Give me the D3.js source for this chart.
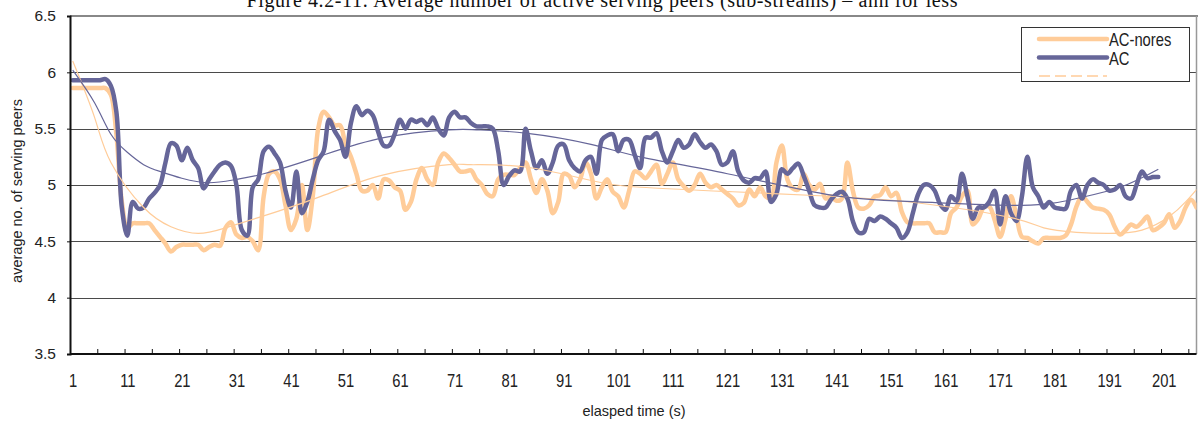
<!DOCTYPE html>
<html>
<head>
<meta charset="utf-8">
<script src="https://cdn.jsdelivr.net/npm/d3@7"></script>
<style>
  body { margin: 0; background: #fff; }
  svg { display: block; }
  .sans { font-family: "Liberation Sans", Arial, sans-serif; fill: #222; }
</style>
</head>
<body>
<div id="chart"></div>
<script>
// AC-nores, one value per second (1..207)
const acNores = [
  5.86, 5.86, 5.86, 5.86, 5.86, 5.86, 5.86, 5.8, 5.45, 4.85,
  4.62, 4.66, 4.66, 4.66, 4.66, 4.6, 4.54, 4.48, 4.41, 4.45,
  4.47, 4.47, 4.47, 4.47, 4.42, 4.45, 4.47, 4.46, 4.62, 4.67,
  4.56, 4.53, 4.54, 4.5, 4.42, 4.9, 5.1, 5.12, 5.05, 4.82,
  4.6, 4.7, 5.0, 4.6, 4.9, 5.5, 5.65, 5.6, 5.53, 5.53,
  5.36, 5.25, 5.1, 4.95, 4.95, 5.0, 4.88, 5.05, 5.04, 4.98,
  4.95, 4.78, 4.85, 5.05, 5.15, 5.05, 5.0, 5.2, 5.28, 5.24,
  5.18, 5.12, 5.12, 5.13, 5.05, 5.0, 4.92, 4.9, 5.05, 5.09,
  5.09, 5.09, 5.15, 5.2, 5.05, 4.93, 5.05, 4.95, 4.75, 4.85,
  5.1, 5.08, 4.98, 5.05, 5.2, 5.1, 4.88, 4.98, 5.05, 4.94,
  4.9, 4.8, 4.95, 5.12, 5.1, 5.06, 5.12, 5.18, 5.01, 5.1,
  5.2, 5.05, 4.99, 4.95, 5.0, 5.1, 5.02, 4.98, 5.0, 4.96,
  4.92, 4.88, 4.82, 4.84, 4.96, 4.9, 4.98, 4.9, 4.88, 5.2,
  5.35, 5.05, 4.97, 4.96, 5.1, 5.0, 4.96, 5.01, 4.88, 4.9,
  4.86, 4.88, 5.2, 4.95, 4.8, 4.79, 4.82, 4.9, 4.91, 4.98,
  4.9, 4.93, 4.76, 4.67, 4.66, 4.66, 4.66, 4.66, 4.58, 4.58,
  4.58, 4.75, 4.8, 4.9, 4.95, 4.65, 4.7, 4.8, 4.81, 4.69,
  4.54, 4.7, 4.9, 4.72, 4.54, 4.53, 4.5, 4.48, 4.53, 4.53,
  4.53, 4.53, 4.55, 4.65, 4.81, 4.9, 4.85, 4.8, 4.79, 4.78,
  4.74, 4.63, 4.56, 4.6, 4.65, 4.63, 4.67, 4.72, 4.6, 4.62,
  4.66, 4.74, 4.62, 4.68, 4.8, 4.87, 4.8
];

// AC, one value per second (1..200)
const ac = [
  5.93, 5.93, 5.93, 5.93, 5.93, 5.93, 5.94, 5.88, 5.65, 4.8,
  4.55, 4.85, 4.79, 4.8, 4.88, 4.93, 5.0, 5.2, 5.37, 5.35,
  5.22, 5.33, 5.22, 5.15, 4.97, 5.05, 5.12, 5.18, 5.2, 5.17,
  5.0, 4.6, 4.55, 4.98, 5.05, 5.3, 5.34, 5.28, 5.2, 4.95,
  4.8, 5.12, 4.75, 4.85, 5.05, 5.22, 5.3, 5.58, 5.48, 5.4,
  5.25, 5.55, 5.7, 5.62, 5.66, 5.62, 5.47, 5.35, 5.35, 5.45,
  5.58, 5.5, 5.58, 5.56, 5.58, 5.53, 5.6, 5.5, 5.44, 5.6,
  5.65, 5.6, 5.6, 5.55, 5.52, 5.52, 5.52, 5.5, 5.3, 5.0,
  5.08, 5.13, 5.12, 5.5, 5.3, 5.15, 5.22, 5.1, 5.2, 5.35,
  5.36, 5.22, 5.15, 5.12, 5.22, 5.25, 5.1, 5.4, 5.44, 5.45,
  5.3, 5.4, 5.4, 5.27, 5.15, 5.42, 5.42, 5.46, 5.3, 5.2,
  5.3, 5.4, 5.33, 5.36, 5.45, 5.38, 5.33, 5.36, 5.3, 5.18,
  5.2, 5.3, 5.12, 5.04, 5.02, 5.06, 5.06, 5.12, 4.85, 4.92,
  5.14, 5.1, 5.15, 5.19, 5.08, 4.95, 4.82, 4.8, 4.8, 4.87,
  4.92, 4.94, 4.88, 4.68, 4.58, 4.58, 4.7, 4.68, 4.72, 4.7,
  4.66, 4.62, 4.53, 4.58, 4.75, 4.92, 5.0, 5.0, 4.95, 4.83,
  4.78, 4.9, 4.86, 5.1, 4.9, 4.7, 4.8, 4.8, 4.85, 4.95,
  4.65, 4.9, 4.75, 4.68, 4.9, 5.25, 4.98, 4.9, 4.8, 4.85,
  4.8, 4.79, 4.79, 4.95, 5.0, 4.88, 5.0, 5.05, 5.02, 5.0,
  4.95, 4.96, 5.0, 4.9, 4.88, 5.0, 5.12, 5.06, 5.07, 5.07
];

// polynomial trend lines
const acTrendT = [1, 5, 8, 11, 14, 17, 21, 26, 31, 36, 46, 58, 70, 75, 84, 96, 105, 121, 140, 156, 175, 185, 193, 200];
const acTrendV = [6.02, 5.73, 5.45, 5.29, 5.18, 5.12, 5.06, 5.02, 5.05, 5.1, 5.25, 5.42, 5.49, 5.49, 5.46, 5.36, 5.25, 5.1, 4.91, 4.85, 4.82, 4.88, 4.98, 5.14];
const noresTrendT = [1, 5, 8, 14, 19, 24, 29, 35, 46, 58, 70, 74, 84, 96, 105, 122, 140, 156, 173, 179, 185, 191, 197, 202, 205, 207];
const noresTrendV = [6.1, 5.6, 5.2, 4.8, 4.63, 4.57, 4.62, 4.71, 4.89, 5.09, 5.18, 5.18, 5.16, 5.04, 4.98, 4.94, 4.9, 4.84, 4.71, 4.62, 4.58, 4.57, 4.6, 4.72, 4.85, 4.96];

const yTicks = [3.5, 4, 4.5, 5, 5.5, 6, 6.5];
const xLabels = d3.range(1, 202, 10);
const xTickBounds = d3.range(0.5, 207, 5);
const seriesNames = ['AC-nores', 'AC'];

const colNores = '#ffcc99';
const colAc = '#666699';
const narrow = 'scale(0.82,1)';

const W = 1198, H = 428;
const plot = { left: 70, top: 16, right: 1196.5, bottom: 354 };

const svg = d3.select('#chart').append('svg')
  .attr('width', W)
  .attr('height', H);

const x = d3.scaleLinear()
  .domain([0.5, 207])
  .range([plot.left, plot.right]);

const y = d3.scaleLinear()
  .domain([3.5, 6.5])
  .range([plot.bottom, plot.top]);

// Title (its top is cut off in the original too)
svg.append('text')
  .attr('x', 602)
  .attr('y', 7)
  .attr('text-anchor', 'middle')
  .attr('textLength', 711)
  .style('font-family', '"Liberation Serif", "Times New Roman", serif')
  .style('font-size', '20px')
  .style('fill', '#111')
  .text('Figure 4.2-11: Average number of active serving peers (sub-streams) \u2013 ann for less');

// Gridlines
svg.append('g')
  .selectAll('line')
  .data(yTicks.slice(1, -1))
  .join('line')
  .attr('x1', plot.left)
  .attr('x2', plot.right)
  .attr('y1', d => Math.round(y(d)) + 0.5)
  .attr('y2', d => Math.round(y(d)) + 0.5)
  .attr('stroke', '#4a4a4a')
  .attr('stroke-width', 1);

// Plot frame (top/right in grey)
svg.append('line')
  .attr('x1', plot.left).attr('x2', W)
  .attr('y1', plot.top).attr('y2', plot.top)
  .attr('stroke', '#888').attr('stroke-width', 2);
svg.append('line')
  .attr('x1', plot.right).attr('x2', plot.right)
  .attr('y1', plot.top).attr('y2', plot.bottom)
  .attr('stroke', '#999').attr('stroke-width', 1.5);

svg.append('clipPath')
  .attr('id', 'clip')
  .append('rect')
  .attr('x', plot.left)
  .attr('y', plot.top)
  .attr('width', plot.right - plot.left)
  .attr('height', plot.bottom - plot.top);

const lines = svg.append('g').attr('clip-path', 'url(#clip)');

const seriesLine = d3.line()
  .x((d, i) => x(i + 1))
  .y(d => y(d))
  .curve(d3.curveCatmullRom.alpha(0.5));

const trendLine = d3.line()
  .x(d => x(d[0]))
  .y(d => y(d[1]))
  .curve(d3.curveNatural);

lines.append('path')
  .datum(acNores)
  .attr('d', seriesLine)
  .attr('fill', 'none')
  .attr('stroke', colNores)
  .attr('stroke-width', 4.5)
  .attr('stroke-linejoin', 'round')
  .attr('stroke-linecap', 'round');

lines.append('path')
  .datum(ac)
  .attr('d', seriesLine)
  .attr('fill', 'none')
  .attr('stroke', colAc)
  .attr('stroke-width', 4.5)
  .attr('stroke-linejoin', 'round')
  .attr('stroke-linecap', 'round');

lines.append('path')
  .datum(d3.zip(noresTrendT, noresTrendV))
  .attr('d', trendLine)
  .attr('fill', 'none')
  .attr('stroke', colNores)
  .attr('stroke-width', 1.2);

lines.append('path')
  .datum(d3.zip(acTrendT, acTrendV))
  .attr('d', trendLine)
  .attr('fill', 'none')
  .attr('stroke', colAc)
  .attr('stroke-width', 1.2);

// Y axis
const yAxis = svg.append('g')
  .attr('transform', `translate(${plot.left},0)`)
  .call(d3.axisLeft(y).tickValues(yTicks).tickSize(3).tickPadding(11).tickFormat(d => d));
yAxis.select('.domain').attr('stroke', '#111').attr('stroke-width', 2);
yAxis.selectAll('.tick line').attr('stroke', '#111');
yAxis.selectAll('.tick text')
  .attr('class', 'sans')
  .style('font-size', '15.5px');

// X axis: ticks between categories, labels on categories
const xAxis = svg.append('g')
  .attr('transform', `translate(0,${plot.bottom})`)
  .call(d3.axisBottom(x).tickValues(xTickBounds).tickSize(-5).tickFormat(''));
xAxis.select('.domain').attr('stroke', '#111').attr('stroke-width', 2)
  .attr('d', `M${plot.left},0H${plot.right}`);
xAxis.selectAll('.tick line').attr('stroke', '#111');

const xLab = svg.append('g')
  .attr('transform', `translate(0,${plot.bottom})`)
  .call(d3.axisBottom(x).tickValues(xLabels).tickSize(0).tickPadding(20).tickFormat(d => d));
xLab.select('.domain').remove();
xLab.selectAll('.tick text')
  .attr('class', 'sans')
  .attr('transform', narrow)
  .style('font-size', '18px');

// Axis titles
svg.append('text')
  .attr('class', 'sans')
  .attr('transform', 'rotate(-90)')
  .attr('x', -191)
  .attr('y', 22)
  .attr('text-anchor', 'middle')
  .style('font-size', '14.5px')
  .text('average no. of serving peers');

svg.append('text')
  .attr('class', 'sans')
  .attr('x', 634)
  .attr('y', 416)
  .attr('text-anchor', 'middle')
  .style('font-size', '14.5px')
  .text('elasped time (s)');

// Legend
const legend = svg.append('g').attr('transform', 'translate(1021,27)');
legend.append('rect')
  .attr('x', 0.5).attr('y', 0.5)
  .attr('width', 168).attr('height', 54)
  .attr('fill', '#fff')
  .attr('stroke', '#333');

const legendItems = [
  { name: seriesNames[0], color: colNores, w: 4.5, dash: null },
  { name: seriesNames[1], color: colAc, w: 4.5, dash: null },
  { name: '', color: colNores, w: 1.5, dash: '11,5' }
];
legendItems.forEach((d, i) => {
  const ly = 12 + i * 18.5;
  legend.append('line')
    .attr('x1', 18).attr('x2', 86)
    .attr('y1', ly).attr('y2', ly)
    .attr('stroke', d.color)
    .attr('stroke-width', d.w)
    .attr('stroke-linecap', d.dash ? 'butt' : 'round')
    .attr('stroke-dasharray', d.dash);
  legend.append('text')
    .attr('class', 'sans')
    .attr('transform', `translate(88,${ly + 7}) ${narrow}`)
    .style('font-size', '18px')
    .text(d.name);
});
</script>
</body>
</html>
